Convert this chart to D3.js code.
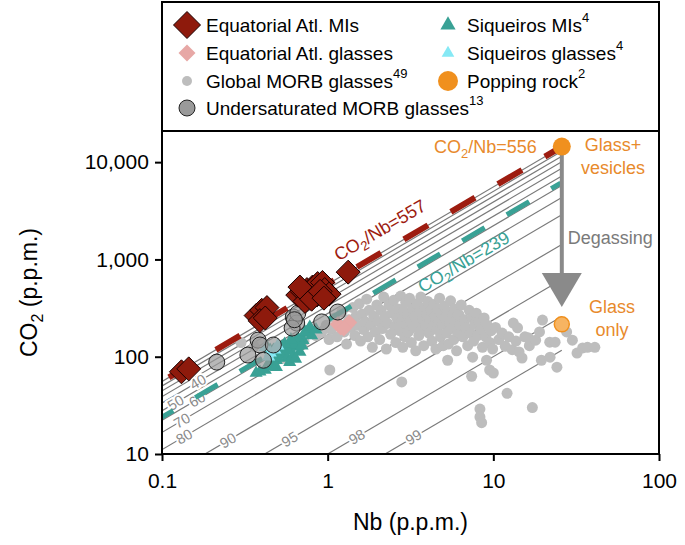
<!DOCTYPE html>
<html><head><meta charset="utf-8">
<script src="https://cdn.jsdelivr.net/npm/d3@7"></script>
<style>
body{margin:0;background:#fff;}
svg{display:block;font-family:"Liberation Sans",Arial,Helvetica,sans-serif;}
</style>
</head><body><svg id="c" width="685" height="545"></svg>
<script>
// ---------- data ----------
const xTicks = [0.1, 1, 10, 100];
const xTickLabels = ["0.1", "1", "10", "100"];
const yTicks = [10, 100, 1000, 10000];
const yTickLabels = ["10", "100", "1,000", "10,000"];

const eqMIs = [[0.131,70],[0.145,75],[0.37,265],[0.40,300],[0.43,320],[0.39,235],[0.42,250],
  [0.66,430],[0.70,470],[0.75,490],[0.81,520],[0.87,565],[0.93,580],[0.96,490],[0.86,430],
  [0.73,370],[0.80,390],[1.02,440],[0.68,520],[0.90,470],[0.95,400],[1.33,740]];
const eqGlasses = [[1.15,215],[1.2,200],[1.3,210],[1.35,225],[1.25,195]];
const siqMIs = [[0.37,68],[0.42,73],[0.49,92],[0.54,109],[0.59,117],[0.65,126],[0.71,148],[0.76,175],
  [0.45,117],[0.52,104],[0.57,97],[0.62,104],[0.68,112],[0.59,88],[0.49,78],[0.39,70],[0.53,126],
  [0.47,117],[0.66,155],[0.73,180],[0.78,202],[0.43,126],[0.62,132],[0.57,117],[0.44,86],
  [0.55,135],[0.60,150],[0.50,98],[0.64,95],[0.70,130],[0.80,165],[0.85,190],[0.46,80]];
const siqGlasses = [[0.42,125],[0.45,110],[0.48,118],[0.44,100],[0.50,130]];
const underMORB = [[0.214,88],[0.33,104],[0.38,148],[0.39,132],[0.47,132],[0.41,92],[0.62,256],
  [0.65,222],[0.61,197],[0.66,280],[0.92,228],[1.15,288],[0.63,240]];
const globalMORB = [
  [0.30,140],[0.36,128],[0.45,98],[0.55,96],[0.62,150],[0.72,145],[0.80,195],[0.85,165],[0.92,178],[0.98,210],[1.02,150],[1.03,73],
  [1.05,190],[1.1,250],[1.14,160],[1.18,215],[1.22,290],[1.26,180],[1.3,135],[1.34,240],[1.38,200],[1.42,320],[1.46,165],[1.48,260],
  [1.52,210],[1.55,350],[1.58,145],[1.62,275],[1.65,190],[1.68,230],[1.72,390],[1.75,160],[1.78,300],[1.82,210],[1.86,125],[1.9,260],[1.94,180],[1.98,340],
  [2.02,230],[2.06,150],[2.1,300],[2.14,195],[2.18,410],[2.22,260],[2.26,120],[2.3,220],[2.35,340],[2.4,170],[2.45,280],[2.5,380],[2.54,205],[2.58,140],
  [2.62,250],[2.67,310],[2.72,185],[2.76,420],[2.8,230],[2.84,125],[2.88,290],[2.92,160],[2.96,360],[2.99,215],[2.8,55],
  [3.03,270],[3.07,180],[3.12,400],[3.16,235],[3.2,140],[3.25,310],[3.3,200],[3.35,260],[3.4,115],[3.45,350],[3.5,220],[3.55,165],[3.6,290],[3.65,410],
  [3.7,190],[3.75,245],[3.8,130],[3.85,320],[3.9,210],[3.95,270],
  [4.02,370],[4.08,175],[4.14,240],[4.2,300],[4.26,145],[4.32,205],[4.38,345],[4.44,260],[4.5,120],[4.56,190],[4.62,310],[4.68,230],[4.74,400],[4.8,160],
  [4.86,280],[4.92,215],[4.98,130],
  [5.05,330],[5.12,250],[5.2,175],[5.28,290],[5.3,92],[5.36,135],[5.44,220],[5.52,375],[5.6,195],[5.68,265],[5.76,150],[5.84,310],[5.92,230],[6.0,115],
  [6.1,180],[6.2,270],[6.3,210],[6.4,340],
  [6.55,160],[6.7,240],[6.85,200],[7.0,130],[7.15,300],[7.3,175],[7.4,63],[7.45,250],[7.5,99],[7.6,145],[7.75,215],[7.9,280],[8.05,165],[8.2,230],
  [8.3,29],[8.3,24],[8.5,21],[8.4,190],[8.6,125],[8.8,250],[9.0,160],[9.1,92],[9.2,210],[9.5,73],[9.5,140],[9.7,185],[10.0,68],[9.9,120],
  [10.3,200],[10.8,150],[11.3,175],[11.8,128],[12.1,42],[12.4,160],[13.0,118],[13.2,222],[13.7,145],[14.0,198],[14.3,112],[14.9,97],
  [15.5,160],[16.2,157],[16.5,130],[17.2,30],[18.0,148],[19.5,92],[19.8,238],[21.9,141],[22,99],[23.6,141],[24.2,78],[27.7,180],[30,148],[32,109],
  [34.6,123],[37,125],[41,125],[19,180]
];
const poppingRock = [[25.9,14456]];
const glassOnly = [[25.9,215]];

// ratio lines (CO2/Nb) for percent degassing
const degassPct   = [0, 10, 20, 30, 40, 50, 60, 70, 80, 90, 95, 98, 99];
const degassRatio = [556, 500, 445, 389, 334, 278, 222, 167, 111, 55, 24, 10, 4.5];
const labelPct = [40, 50, 60, 70, 80, 90, 95, 98, 99];
const labelNb  = [0.165, 0.121, 0.163, 0.132, 0.136, 0.25, 0.59, 1.5, 3.3];
const eqRatio = 557, siqRatio = 239;

// ---------- setup ----------
const svg = d3.select("#c");
const L = 162, R = 659, T = 131, B = 454;
const x = d3.scaleLog().domain([0.1, 100]).range([L, R]);
const y = d3.scaleLog().domain([10, 20900]).range([B, T]);
const ang = -Math.atan((y(10) - y(100)) / (x(10) - x(1))) * 180 / Math.PI;
const rad = -ang * Math.PI / 180;

const COL = {red:"#8e1a0c", redLine:"#9d1c10", pink:"#e7a8a6", gray:"#bdbdbd", under:"#9a9a9a",
  teal:"#39a195", cyan:"#86e9f5", orange:"#f0901e", orangeTxt:"#e88a2c"};

svg.append("defs").append("clipPath").attr("id","clip")
  .append("rect").attr("x",L).attr("y",T).attr("width",R-L).attr("height",B-T);
const g = svg.append("g").attr("clip-path","url(#clip)");

// degassing ratio lines
const lineGen = d3.line().x(d=>x(d[0])).y(d=>y(d[1]));
const endNb = poppingRock[0][0];
g.selectAll(".dg").data(degassRatio).join("path")
  .attr("d", r => lineGen([[0.05, 0.05*r], [endNb, endNb*r]]))
  .attr("fill","none").attr("stroke","#7a7a7a").attr("stroke-width",1.2);

// labels on ratio lines
labelPct.forEach((p,i)=>{
  const r = degassRatio[degassPct.indexOf(p)];
  const nb = labelNb[i];
  g.append("text").attr("transform",`translate(${x(nb)},${y(nb*r)}) rotate(${ang})`)
   .attr("text-anchor","middle").attr("dominant-baseline","central")
   .attr("font-size",14.5).attr("fill","#8a8a8a")
   .attr("stroke","#fff").attr("stroke-width",4).attr("paint-order","stroke")
   .text(p);
});

// global MORB
g.selectAll(".gm").data(globalMORB).join("circle")
  .attr("cx",d=>x(d[0])).attr("cy",d=>y(d[1])).attr("r",5.5).attr("fill",COL.gray);

// dashed ratio lines
g.append("path").attr("d", lineGen([[0.1,0.1*eqRatio],[25.5,25.5*eqRatio]]))
  .attr("stroke",COL.redLine).attr("stroke-width",6).attr("fill","none")
  .attr("stroke-dasharray","28 26.5").attr("stroke-dashoffset",46.5);
g.append("path").attr("d", lineGen([[0.1,0.1*siqRatio],[25.5,25.5*siqRatio]]))
  .attr("stroke",COL.teal).attr("stroke-width",5).attr("fill","none")
  .attr("stroke-dasharray","26 25.6").attr("stroke-dashoffset",13);

// shapes
const diamond = s => `M0,${-s}L${s},0L0,${s}L${-s},0Z`;
const tri = d3.symbol().type(d3.symbolTriangle);

g.selectAll(".eg").data(eqGlasses).join("path")
  .attr("transform",d=>`translate(${x(d[0])},${y(d[1])})`).attr("d",diamond(8)).attr("fill",COL.pink);
g.selectAll(".sm").data(siqMIs).join("path")
  .attr("transform",d=>`translate(${x(d[0])},${y(d[1])})`).attr("d",tri.size(75)()).attr("fill",COL.teal);
g.selectAll(".sg").data(siqGlasses).join("path")
  .attr("transform",d=>`translate(${x(d[0])},${y(d[1])})`).attr("d",tri.size(75)()).attr("fill",COL.cyan);
g.selectAll(".um").data(underMORB).join("circle")
  .attr("cx",d=>x(d[0])).attr("cy",d=>y(d[1])).attr("r",8)
  .attr("fill",COL.under).attr("fill-opacity",0.7).attr("stroke","#222").attr("stroke-width",1);
g.selectAll(".em").data(eqMIs).join("path")
  .attr("transform",d=>`translate(${x(d[0])},${y(d[1])})`).attr("d",diamond(12))
  .attr("fill",COL.red).attr("stroke","#1a0000").attr("stroke-width",1);

// arrow
const ax = x(endNb);
svg.append("line").attr("x1",ax).attr("x2",ax).attr("y1",y(poppingRock[0][1])).attr("y2",y(700))
  .attr("stroke","#8a8a8a").attr("stroke-width",4);
svg.append("path").attr("d",`M${ax-20},${y(725)}L${ax+20},${y(725)}L${ax},${y(324)}Z`).attr("fill","#8a8a8a");
svg.append("text").attr("x",ax+6).attr("y",y(1660)).attr("dominant-baseline","central")
  .attr("font-size",18).attr("fill","#7a7a7a").text("Degassing");

// popping rock
svg.selectAll(".pr").data(poppingRock).join("circle")
  .attr("cx",d=>x(d[0])).attr("cy",d=>y(d[1])).attr("r",9).attr("fill",COL.orange);
svg.selectAll(".go").data(glassOnly).join("circle")
  .attr("cx",d=>x(d[0])).attr("cy",d=>y(d[1])).attr("r",7.5).attr("fill","#f7b462")
  .attr("stroke",COL.orange).attr("stroke-width",1.5);

// orange annotations
function co2text(sel, rest, sub){
  sel.append("tspan").text("CO");
  sel.append("tspan").attr("font-size",sub).attr("dy",5).text("2");
  sel.append("tspan").attr("dy",-5).text(rest);
}
const t556 = svg.append("text").attr("x",ax-25).attr("y",y(poppingRock[0][1])+6)
  .attr("text-anchor","end").attr("font-size",18).attr("fill",COL.orangeTxt);
co2text(t556,"/Nb=556",13);
svg.append("text").attr("x",613).attr("y",151).attr("text-anchor","middle").attr("font-size",18).attr("fill",COL.orangeTxt).text("Glass+");
svg.append("text").attr("x",613).attr("y",174).attr("text-anchor","middle").attr("font-size",18).attr("fill",COL.orangeTxt).text("vesicles");
svg.append("text").attr("x",612).attr("y",313).attr("text-anchor","middle").attr("font-size",18).attr("fill",COL.orangeTxt).text("Glass");
svg.append("text").attr("x",612).attr("y",336).attr("text-anchor","middle").attr("font-size",18).attr("fill",COL.orangeTxt).text("only");

// ratio annotations
function ratioLabel(nb, r, off, txt, col){
  const cx = x(nb) - off*Math.sin(rad), cy = y(nb*r) - off*Math.cos(rad);
  const t = svg.append("text").attr("transform",`translate(${cx},${cy}) rotate(${ang})`)
    .attr("text-anchor","middle").attr("dominant-baseline","central").attr("font-size",18).attr("fill",col);
  co2text(t, txt, 13);
}
ratioLabel(2.38, eqRatio, 20, "/Nb=557", COL.redLine);
ratioLabel(5.8, siqRatio, -19, "/Nb=239", COL.teal);

// ---------- axes ----------
const xAxis = svg.append("g").attr("transform",`translate(0,${B})`)
  .call(d3.axisBottom(x).tickValues(xTicks).tickFormat((d,i)=>xTickLabels[i]).tickSize(7).tickSizeOuter(0));
const yAxis = svg.append("g").attr("transform",`translate(${L},0)`)
  .call(d3.axisLeft(y).tickValues(yTicks).tickFormat((d,i)=>yTickLabels[i]).tickSize(7).tickSizeOuter(0));
[xAxis,yAxis].forEach(a=>{
  a.select(".domain").remove();
  a.selectAll("line").attr("stroke","#000").attr("stroke-width",2);
  a.selectAll("text").attr("font-size",21).attr("fill","#000").attr("font-family","inherit");
});
xAxis.selectAll("text").attr("dy","1.15em");
yAxis.selectAll("text").attr("dx","-0.15em");

// frame
svg.append("rect").attr("x",L).attr("y",2).attr("width",R-L).attr("height",B-2)
  .attr("fill","none").attr("stroke","#000").attr("stroke-width",2);
svg.append("line").attr("x1",L).attr("x2",R).attr("y1",T).attr("y2",T).attr("stroke","#000").attr("stroke-width",2);

// axis titles
svg.append("text").attr("x",(L+R)/2).attr("y",530).attr("text-anchor","middle").attr("font-size",23).text("Nb (p.p.m.)");
const yt = svg.append("text").attr("transform",`translate(37,${(T+B)/2}) rotate(-90)`).attr("text-anchor","middle").attr("font-size",23);
yt.append("tspan").text("CO");
yt.append("tspan").attr("font-size",16).attr("dy",6).text("2");
yt.append("tspan").attr("dy",-6).text(" (p.p.m.)");

// ---------- legend ----------
const legend = [
  {col:0,row:0,label:"Equatorial Atl. MIs",sup:"",sym:"bigDiamond"},
  {col:0,row:1,label:"Equatorial Atl. glasses",sup:"",sym:"pinkDiamond"},
  {col:0,row:2,label:"Global MORB glasses",sup:"49",sym:"dot"},
  {col:0,row:3,label:"Undersaturated MORB glasses",sup:"13",sym:"circle"},
  {col:1,row:0,label:"Siqueiros MIs",sup:"4",sym:"tealTri"},
  {col:1,row:1,label:"Siqueiros glasses",sup:"4",sym:"cyanTri"},
  {col:1,row:2,label:"Popping rock",sup:"2",sym:"orange"}
];
const colX = [187, 448], rowY = [25, 53, 81, 108];
legend.forEach(e=>{
  const gx = colX[e.col], gy = rowY[e.row];
  const lg = svg.append("g").attr("transform",`translate(${gx},${gy})`);
  if(e.sym==="bigDiamond") lg.append("path").attr("d",diamond(13.5)).attr("fill",COL.red).attr("stroke","#1a0000");
  if(e.sym==="pinkDiamond") lg.append("path").attr("d",diamond(8.5)).attr("fill",COL.pink);
  if(e.sym==="dot") lg.append("circle").attr("r",5).attr("fill",COL.gray);
  if(e.sym==="circle") lg.append("circle").attr("r",8).attr("fill",COL.under).attr("stroke","#222");
  if(e.sym==="tealTri") lg.append("path").attr("d",d3.symbol().type(d3.symbolTriangle).size(100)()).attr("fill",COL.teal);
  if(e.sym==="cyanTri") lg.append("path").attr("d",d3.symbol().type(d3.symbolTriangle).size(70)()).attr("fill",COL.cyan);
  if(e.sym==="orange") lg.append("circle").attr("r",10).attr("fill",COL.orange);
  const t = lg.append("text").attr("x",19).attr("y",0).attr("dominant-baseline","central").attr("font-size",19).text(e.label);
  if(e.sup) t.append("tspan").attr("font-size",13).attr("dy",-8).text(e.sup);
});
</script>
</body></html>
